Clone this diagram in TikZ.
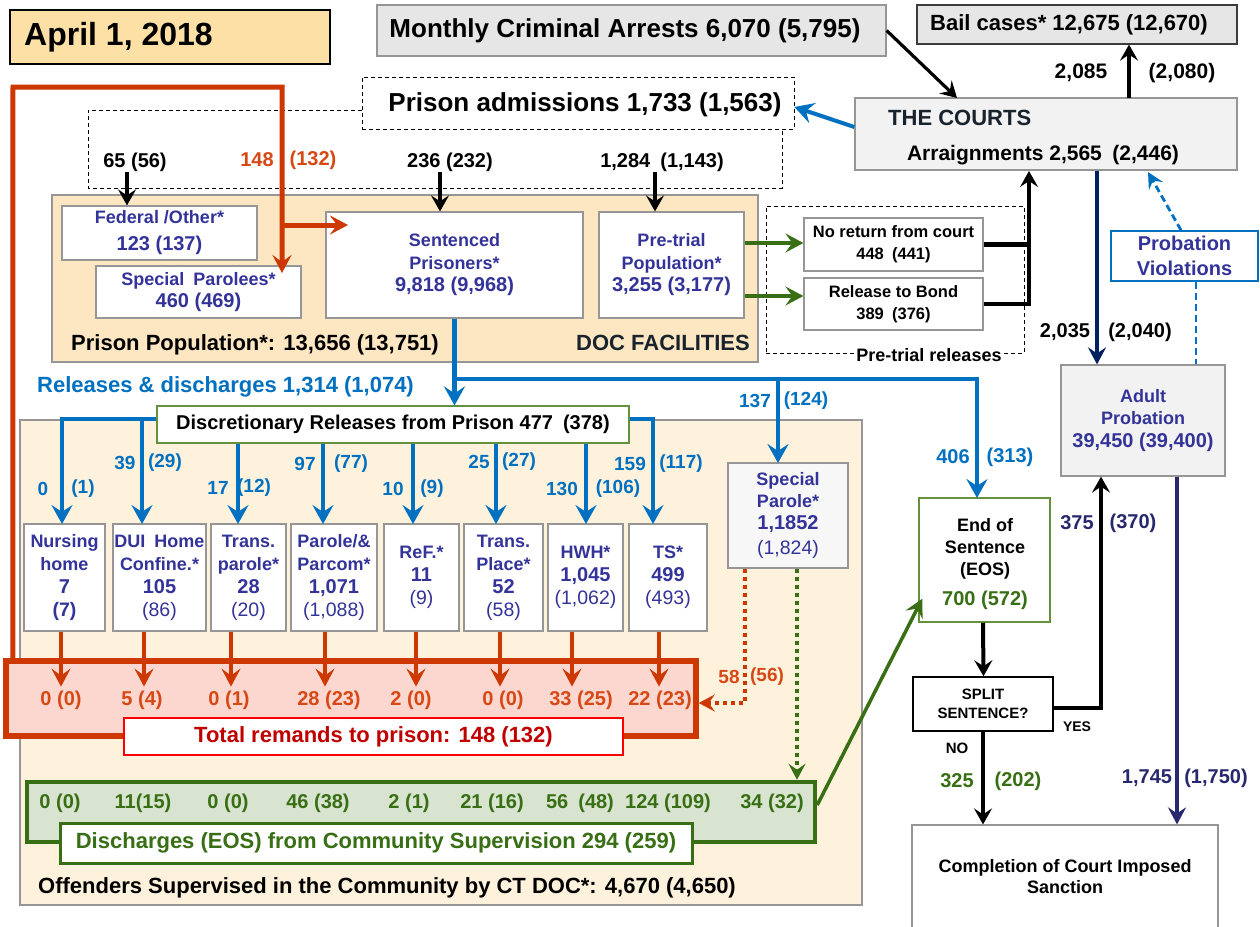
\documentclass[tikz,border=0pt]{standalone}
\usepackage{fontspec}
\setmainfont{Liberation Sans}
\usetikzlibrary{arrows.meta}
\definecolor{dateF}{RGB}{252,224,166}
\definecolor{docF}{RGB}{253,231,194}
\definecolor{commF}{RGB}{254,242,221}
\definecolor{grayF}{RGB}{230,230,230}
\definecolor{lightF}{RGB}{242,242,242}
\definecolor{spF}{RGB}{247,247,247}
\definecolor{bgray}{RGB}{150,150,150}
\definecolor{dblue}{RGB}{51,51,153}
\definecolor{bblue}{RGB}{0,112,192}
\definecolor{ored}{RGB}{205,55,0}
\definecolor{otext}{RGB}{214,72,20}
\definecolor{pinkF}{RGB}{252,215,207}
\definecolor{dred}{RGB}{192,0,0}
\definecolor{bred}{RGB}{255,0,0}
\definecolor{dgreen}{RGB}{56,110,20}
\definecolor{greenF}{RGB}{216,228,208}
\definecolor{oliveB}{RGB}{100,145,60}
\definecolor{navyA}{RGB}{0,32,96}
\definecolor{navyB}{RGB}{40,40,110}
\definecolor{darkT}{RGB}{25,35,45}
\definecolor{bailB}{RGB}{60,60,60}
\newcommand\fz[2]{\fontsize{#1}{#2}\selectfont}
\newcommand\numB[1]{{\fz{20}{23}#1}}
\newcommand\numR[1]{{\mdseries\fz{19.5}{23}#1}}
\begin{document}
\begin{tikzpicture}[x=1pt,y=-1pt,
 wh/.style 2 args={minimum width=#1pt,minimum height=#2pt},
 bx/.style={draw=bgray,line width=1.2pt,fill=white,inner sep=0pt,align=center,font=\bfseries},
 tx/.style={inner sep=0pt,align=center},
 sz/.style={font=\bfseries\fz{#1}{#1}},
 sb/.style={bx,text=dblue,font=\bfseries\fz{18}{23},minimum height=107pt},
 ablue/.style={draw=bblue,line width=4.5pt,-{Stealth[length=19pt,width=21pt,inset=7pt]}},
 ablk/.style={draw=black,line width=3.2pt,-{Stealth[length=16pt,width=18pt,inset=6pt]}},
 ared/.style={draw=ored,line width=4pt,-{Stealth[length=18pt,width=19pt,inset=7pt]}},
 agrn/.style={draw=dgreen,line width=4pt,-{Stealth[length=18pt,width=19pt,inset=7pt]}},
 anavy/.style={draw=navyA,line width=3.5pt,-{Stealth[length=17pt,width=18pt,inset=6pt]}},
 anavyB/.style={draw=navyB,line width=3.5pt,-{Stealth[length=17pt,width=18pt,inset=6pt]}},
 bdash/.style={draw=bblue,line width=2.8pt,dash pattern=on 7pt off 4pt},
 rdot/.style={draw=ored,line width=4pt,dash pattern=on 4pt off 4pt,-{Stealth[length=16pt,width=17pt,inset=6pt]}},
 gdot/.style={draw=dgreen,line width=4pt,dash pattern=on 4pt off 4pt,-{Stealth[length=16pt,width=17pt,inset=6pt]}},
 bl/.style={tx,sz=19,text=bblue},
 rl/.style={tx,sz=20,text=otext},
 gl/.style={tx,sz=20,text=dgreen},
 nl/.style={tx,sz=20,text=navyB},
 kl/.style={tx,sz=20}
]
\useasboundingbox (0,0) rectangle (1260,926);
\fill[white] (0,0) rectangle (1260,926);

% ---------- top row
\node[bx,draw=black,fill=dateF,wh={320}{54}] (date) at (170,37) {};
\node[tx,sz=32,anchor=west] (dateT) at (24,37) {April 1, 2018};
\node[bx,fill=grayF,wh={509}{51}] (arrests) at (631.5,30.5) {};
\node[tx,sz=26] (arrestsT) at (625,31) {Monthly Criminal Arrests 6,070 (5,795)};
\node[bx,draw=bailB,fill=grayF,wh={320}{39}] (bail) at (1077,24.5) {};
\node[tx,sz=22] (bailT) at (1069,25) {Bail cases* 12,675 (12,670)};
\node[bx,fill=lightF,wh={382}{72}] (courts) at (1046,134) {};
\node[tx,sz=22,anchor=west,text=darkT] (courtsT1) at (888,118) {THE COURTS};
\node[tx,sz=21] (courtsT2) at (1043,155) {Arraignments 2,565\enspace(2,446)};

% ---------- admissions
\draw[line width=0.9pt,dash pattern=on 4pt off 3pt] (362,110) -- (88,110) -- (88,188) -- (782,188) -- (782,129);
\node[bx,draw=black,dash pattern=on 4pt off 3pt,line width=0.9pt,wh={432}{52}] (admit) at (578,103) {};
\node[tx,sz=26] (admitT) at (585,105) {Prison admissions 1,733 (1,563)};

% ---------- DOC facilities
\node[bx,fill=docF,wh={706}{167}] (doc) at (405,278.5) {};
\node[bx,wh={195}{54},text=dblue,font=\bfseries\fz{18}{27}] (fed) at (159.5,233) {Federal /Other*\\{\fz{20}{27}123 (137)}};
\node[bx,wh={205}{52},text=dblue,font=\bfseries\fz{18}{22}] (spp) at (198.5,292) {Special\enspace Parolees*\\{\fz{20}{22}460 (469)}};
\node[bx,wh={257}{106},text=dblue,font=\bfseries\fz{18}{22.5}] (sent) at (454.5,265) {Sentenced\\Prisoners*\\{\fz{20}{22.5}9,818 (9,968)}};
\node[bx,wh={145}{106},text=dblue,font=\bfseries\fz{18}{22.5}] (pret) at (671.5,265) {Pre-trial\\Population*\\{\fz{20}{22.5}3,255 (3,177)}};
\node[tx,sz=22,anchor=west] (popT) at (71,345) {Prison Population*: 13,656 (13,751)};
\node[tx,sz=22,anchor=east,text=darkT] (docT) at (750,343) {DOC FACILITIES};

% ---------- pre-trial releases
\node[draw=black,dash pattern=on 4pt off 3pt,line width=0.9pt,wh={258}{147},inner sep=0pt] (prerel) at (895,279.5) {};
\node[bx,wh={179}{53},font=\bfseries\fz{16.5}{22}] (noret) at (893.5,244.5) {No return from court\\448\enspace(441)};
\node[bx,wh={179}{52},font=\bfseries\fz{16.5}{22}] (bond) at (893.5,304) {Release to Bond\\389\enspace(376)};
\node[tx,sz=18,fill=white,inner sep=2pt] (preT) at (929,355) {Pre-trial releases};

% ---------- right column
\node[bx,draw=bblue,line width=1.5pt,wh={147}{50},text=dblue,font=\bfseries\fz{20}{25}] (pv) at (1184.5,256) {Probation\\Violations};
\node[bx,fill=lightF,wh={164}{111},text=dblue,font=\bfseries\fz{18}{22.5}] (prob) at (1143,420.5) {Adult\\Probation\\{\fz{20}{22.5}39,450 (39,400)}};

% ---------- community
\node[bx,fill=commF,wh={842}{485}] (comm) at (441,662.5) {};
\node[bx,draw=oliveB,wh={472}{37},font=\bfseries\fz{20}{20}] (disc) at (393,424.5) {Discretionary Releases from Prison 477\enspace(378)};
\node[tx,sz=22,anchor=west,text=bblue] (relT) at (37,387) {Releases \& discharges 1,314 (1,074)};

\node[sb,minimum width=81pt] (nh) at (64.5,577.5) {Nursing\\home\\\numB{7}\\{\fz{19.5}{23}(7)}};
\node[sb,minimum width=93pt] (dui) at (159.5,577.5) {DUI\enspace Home\\Confine.*\\\numB{105}\\\numR{(86)}};
\node[sb,minimum width=75pt] (tpar) at (248.5,577.5) {Trans.\\parole*\\\numB{28}\\\numR{(20)}};
\node[sb,minimum width=86pt] (par) at (334,577.5) {Parole/\&\\Parcom*\\\numB{1,071}\\\numR{(1,088)}};
\node[sb,minimum width=75pt] (ref) at (421.5,577.5) {ReF.*\\\numB{11}\\\numR{(9)}};
\node[sb,minimum width=79pt] (tpl) at (503.5,577.5) {Trans.\\Place*\\\numB{52}\\\numR{(58)}};
\node[sb,minimum width=75pt] (hwh) at (585.5,577.5) {HWH*\\\numB{1,045}\\\numR{(1,062)}};
\node[sb,minimum width=78pt] (ts) at (668,577.5) {TS*\\\numB{499}\\\numR{(493)}};
\node[bx,fill=spF,wh={120}{105},text=dblue,font=\bfseries\fz{18}{22}] (sp) at (788,515.5) {Special\\Parole*\\\numB{1,1852}\\[3pt]\numR{(1,824)}};

\node[bx,draw=ored,fill=pinkF,line width=5.5pt,wh={690}{75}] (rem) at (351,698.5) {};
\node[bx,draw=bred,line width=2pt,wh={499}{37},text=dred,font=\bfseries\fz{22}{22}] (total) at (373.5,736.5) {Total remands to prison: 148 (132)};
\node[bx,draw=dgreen,fill=greenF,line width=4.5pt,wh={788}{60}] (grn) at (421,812) {};
\node[bx,draw=dgreen,line width=3pt,wh={632}{40},text=dgreen,font=\bfseries\fz{22}{22}] (dis) at (376,843) {Discharges (EOS) from Community Supervision 294 (259)};
\node[tx,sz=22,anchor=west] (commT) at (38,888) {Offenders Supervised in the Community by CT DOC*: 4,670 (4,650)};

% ---------- sentence outcomes
\node[bx,draw=oliveB,line width=1.5pt,wh={131}{124}] (eos) at (984.5,560) {};
\node[tx,font=\bfseries\fz{18}{22}] (eosT) at (985,564) {End of\\Sentence\\(EOS)\\[8pt]{\color{dgreen}\fz{20}{22}700 (572)}};
\node[bx,draw=black,line width=1.5pt,wh={140}{54},font=\bfseries\fz{15}{19}] (split) at (983,704) {SPLIT\\SENTENCE?};
\node[bx,wh={306}{110}] (comp) at (1065,880) {};
\node[tx,font=\bfseries\fz{18}{21}] (compT) at (1065,877) {Completion of Court Imposed\\Sanction};

% ---------- connectors
\coordinate (arrIn) at (957,98);
\draw[ablk] (arrests.east) -- (arrIn);
\coordinate (bailOut) at (1129,98);
\draw[ablk] (bailOut) -- (bailOut |- bail.south);
\draw[ablue,line width=4pt] ([yshift=7pt]courts.west) -- ([yshift=-4pt]admit.east);

\coordinate (a65) at (127,172);
\draw[ablk] (a65) -- (a65 |- fed.north);
\coordinate (a236) at (440,172);
\draw[ablk] (a236) -- (a236 |- sent.north);
\coordinate (a1284) at (655,172);
\draw[ablk] (a1284) -- (a1284 |- pret.north);

\coordinate (rc1) at (13,87);
\coordinate (rc2) at (282,87);
\coordinate (rj) at (282,225);
\coordinate (sppIn) at (282,273);
\coordinate (sentIn) at (348,225);
\draw[ared,line width=5pt] ([xshift=9.5pt]rem.north west) -- (rc1) -- (rc2) -- (sppIn);
\draw[ared,line width=5pt] (rj) -- (sentIn);

\draw[agrn] ([yshift=22pt]pret.east) -- ([yshift=22pt]pret.east -| noret.west);
\draw[agrn] ([yshift=-31pt]pret.east) -- ([yshift=-31pt]pret.east -| bond.west);

\coordinate (cin) at (1029,171);
\draw[line width=4.5pt] (noret.east) -- (noret.east -| cin);
\draw[ablk,line width=4.5pt] (bond.east) -| (cin);

\coordinate (cout) at (1097,171);
\draw[anavy] (cout) -- (cout |- prob.north);
\coordinate (pvIn) at (1148,172);
\draw[bdash,-{Stealth[length=16pt,width=16pt,inset=6pt]}] ([xshift=-3.5pt]pv.north) -- (pvIn);
\draw[bdash] ([xshift=11.5pt]pv.south) -- ([xshift=11.5pt]pv.south |- prob.north);

\coordinate (bj) at (454.5,379);
\coordinate (eosIn) at (977,498);
\coordinate (spIn) at (778,463);
\draw[ablue] (sent.south) -- (sent.south |- disc.north);
\draw[ablue] (bj) -| (eosIn);
\draw[ablue] (spIn |- bj) -- (spIn);

\coordinate (dl) at (62,419);
\coordinate (tNH) at (62,524);
\coordinate (tDUI) at (142,524);
\coordinate (tTPAR) at (238,524);
\coordinate (tPAR) at (323,524);
\coordinate (tREF) at (413,524);
\coordinate (tTPL) at (496,524);
\coordinate (tHWH) at (586,524);
\coordinate (tTS) at (653,524);
\draw[ablue] ([yshift=5.5pt]disc.west) -- (dl) -- (tNH);
\draw[ablue] (tDUI |- dl) -- (tDUI);
\draw[ablue] (tTPAR |- disc.south) -- (tTPAR);
\draw[ablue] (tPAR |- disc.south) -- (tPAR);
\draw[ablue] (tREF |- disc.south) -- (tREF);
\draw[ablue] (tTPL |- disc.south) -- (tTPL);
\draw[ablue] (tHWH |- disc.south) -- (tHWH);
\draw[ablue] ([yshift=5.5pt]disc.east) -| (tTS);

\draw[ared] ([xshift=-3.5pt]nh.south) -- ++(0,55);
\draw[ared] ([xshift=-15.5pt]dui.south) -- ++(0,55);
\draw[ared] ([xshift=-17.5pt]tpar.south) -- ++(0,55);
\draw[ared] ([xshift=-9pt]par.south) -- ++(0,55);
\draw[ared] ([xshift=-5.5pt]ref.south) -- ++(0,55);
\draw[ared] ([xshift=-3.5pt]tpl.south) -- ++(0,55);
\draw[ared] ([xshift=-13.5pt]hwh.south) -- ++(0,55);
\draw[ared] ([xshift=-9pt]ts.south) -- ++(0,55);

\coordinate (sd) at (745,703);
\draw[rdot] ([xshift=-43pt]sp.south) -- (sd) -- (sd -| rem.east);
\draw[gdot] ([xshift=9pt]sp.south) -- ([xshift=9pt]sp.south |- grn.north);

\draw[agrn,line width=3.5pt] ([yshift=7pt]grn.east) -- ([xshift=4pt,yshift=24pt]eos.south west);

\draw[ablk,line width=4pt] ([xshift=-1.5pt]eos.south) -- ([xshift=0.5pt]split.north);
\coordinate (yc) at (1101,708);
\draw[ablk,line width=4pt] ([yshift=-4pt]split.east) -- (yc) -- (yc |- prob.south);
\draw[ablk,line width=4pt] (split.south) -- (split.south |- comp.north);
\draw[anavyB] ([xshift=34pt]prob.south) -- ([xshift=34pt]prob.south |- comp.north);

% ---------- labels
\node[kl] (l65) at (135,162) {65 (56)};
\node[tx,sz=20,text=otext] (l148) at (257,160) {148};
\node[tx,sz=20,text=otext] (l132) at (313,160) {(132)};
\node[kl] (l236) at (450,162) {236 (232)};
\node[kl] (l1284) at (662,162) {1,284\enspace(1,143)};
\node[tx,sz=21] (l2085) at (1081,73) {2,085};
\node[tx,sz=21] (l2080) at (1182,73) {(2,080)};
\node[kl] (l2035) at (1065,332) {2,035};
\node[kl] (l2040) at (1140,332) {(2,040)};

\node[bl] (b1) at (43,489) {0};
\node[bl] (b2) at (83,489) {(1)};
\node[bl] (b3) at (125,463) {39};
\node[bl] (b4) at (165,463) {(29)};
\node[bl] (b5) at (218,488) {17};
\node[bl] (b6) at (254,488) {(12)};
\node[bl] (b7) at (305,464) {97};
\node[bl] (b8) at (351,464) {(77)};
\node[bl] (b9) at (393,489) {10};
\node[bl] (b10) at (432,489) {(9)};
\node[bl] (b11) at (479,462) {25};
\node[bl] (b12) at (519,462) {(27)};
\node[bl] (b13) at (562,489) {130};
\node[bl] (b14) at (618,489) {(106)};
\node[bl] (b15) at (630,464) {159};
\node[bl] (b16) at (681,464) {(117)};
\node[bl] (b17) at (755,401) {137};
\node[bl] (b18) at (806,401) {(124)};
\node[bl,sz=20] (b19) at (953,457) {406};
\node[bl,sz=20] (b20) at (1010,457) {(313)};

\node[rl] (r1) at (61,700) {0 (0)};
\node[rl] (r2) at (142,700) {5 (4)};
\node[rl] (r3) at (229,700) {0 (1)};
\node[rl] (r4) at (329,700) {28 (23)};
\node[rl] (r5) at (411,700) {2 (0)};
\node[rl] (r6) at (503,700) {0 (0)};
\node[rl] (r7) at (581,700) {33 (25)};
\node[rl] (r8) at (660,700) {22 (23)};
\node[rl,sz=19] (r9) at (729,677) {58};
\node[rl,sz=19] (r10) at (767,677) {(56)};

\node[gl] (g1) at (60,803) {0 (0)};
\node[gl] (g2) at (143,803) {11(15)};
\node[gl] (g3) at (228,803) {0 (0)};
\node[gl] (g4) at (318,803) {46 (38)};
\node[gl] (g5) at (409,803) {2 (1)};
\node[gl] (g6) at (492,803) {21 (16)};
\node[gl] (g7) at (580,803) {56\enspace(48)};
\node[gl] (g8) at (668,803) {124 (109)};
\node[gl] (g9) at (772,803) {34 (32)};

\node[nl] (n1) at (1077,523) {375};
\node[nl] (n2) at (1133,523) {(370)};
\node[tx,sz=14] (yesT) at (1077,727) {YES};
\node[tx,sz=15] (noT) at (957,748) {NO};
\node[gl] (g10) at (957,781) {325};
\node[gl] (g11) at (1018,781) {(202)};
\node[nl] (n3) at (1147,778) {1,745};
\node[nl] (n4) at (1216,778) {(1,750)};
\end{tikzpicture}
\end{document}
